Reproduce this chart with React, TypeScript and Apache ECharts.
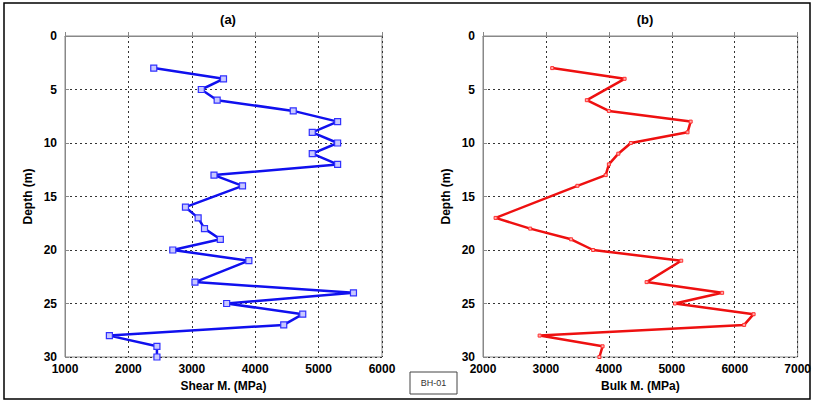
import React, { useEffect, useRef } from "react";
import * as echarts from "echarts";

const shearDepths = [3, 4, 5, 6, 7, 8, 9, 10, 11, 12, 13, 14, 16, 17, 18, 19, 20, 21, 23, 24, 25, 26, 27, 28, 29, 30];
const shearValues = [2400, 3500, 3150, 3400, 4600, 5300, 4900, 5300, 4900, 5300, 3350, 3800, 2900, 3100, 3200, 3450, 2700, 3900, 3050, 5550, 3550, 4750, 4450, 1700, 2450, 2450];

const bulkDepths = [3, 4, 6, 7, 8, 9, 10, 11, 12, 13, 14, 17, 18, 19, 20, 21, 23, 24, 25, 26, 27, 28, 29, 30];
const bulkValues = [3100, 4250, 3650, 4000, 5300, 5250, 4350, 4150, 4000, 3950, 3500, 2200, 2750, 3400, 3750, 5150, 4600, 5800, 5050, 6300, 6150, 2900, 3900, 3850];

const panelTitles = ["(a)", "(b)"];
const xNames = ["Shear M. (MPa)", "Bulk M. (MPa)"];
const yName = "Depth (m)";
const legendText = "BH-01";

const FONT = "Liberation Sans, Arial, sans-serif";

export default function App() {
  const ref = useRef<HTMLDivElement>(null);
  useEffect(() => {
    if (!ref.current) return;
    const chart = echarts.init(ref.current, null, { renderer: "svg" });
    const grids = [
      { left: 65, top: 36, width: 317, height: 321 },
      { left: 483, top: 36, width: 315, height: 321 },
    ];
    const xRanges = [
      [1000, 6000],
      [2000, 7000],
    ];
    const axisLabelStyle = { color: "#000", fontSize: 12, fontWeight: "bold" as const, fontFamily: FONT };
    const xAxes = [0, 1].map((i) => ({
      type: "value",
      gridIndex: i,
      min: xRanges[i][0],
      max: xRanges[i][1],
      interval: 1000,
      position: "bottom",
      name: xNames[i],
      nameLocation: "middle",
      nameGap: 22,
      nameTextStyle: { color: "#000", fontSize: 12, fontWeight: "bold", fontFamily: FONT },
      axisLine: { show: true, lineStyle: { color: "#888", width: 1 } },
      axisTick: { show: true, inside: true, length: 4, lineStyle: { color: "#888" } },
      axisLabel: { ...axisLabelStyle, margin: 6, formatter: (v: number) => String(v) },
      splitLine: { show: true, lineStyle: { color: "#333", type: [2, 3], width: 1 } },
    }));
    const yAxes = [0, 1].map((i) => ({
      type: "value",
      gridIndex: i,
      min: 0,
      max: 30,
      interval: 5,
      inverse: true,
      name: yName,
      nameLocation: "middle",
      nameGap: 31,
      nameTextStyle: { color: "#000", fontSize: 12, fontWeight: "bold", fontFamily: FONT },
      axisLine: { show: true, lineStyle: { color: "#888", width: 1 } },
      axisTick: { show: true, inside: true, length: 4, lineStyle: { color: "#888" } },
      axisLabel: { ...axisLabelStyle, margin: 8 },
      splitLine: { show: true, lineStyle: { color: "#333", type: [2, 3], width: 1 } },
    }));
    const shearData = shearDepths.map((d, k) => [shearValues[k], d]);
    const bulkData = bulkDepths.map((d, k) => [bulkValues[k], d]);
    chart.setOption({
      animation: false,
      backgroundColor: "#fff",
      grid: grids.map((g) => ({ ...g, show: true, borderColor: "#888", borderWidth: 1, backgroundColor: "#fff" })),
      xAxis: xAxes,
      yAxis: yAxes,
      title: [
        { text: panelTitles[0], left: 223, top: 8, textAlign: "center", textStyle: { fontSize: 13, fontWeight: "bold", color: "#000", fontFamily: FONT } },
        { text: panelTitles[1], left: 640, top: 8, textAlign: "center", textStyle: { fontSize: 13, fontWeight: "bold", color: "#000", fontFamily: FONT } },
      ],
      series: [
        {
          type: "line",
          xAxisIndex: 0,
          yAxisIndex: 0,
          data: shearData,
          symbol: "rect",
          symbolSize: 6,
          showAllSymbol: true,
          lineStyle: { color: "#1010ee", width: 2.5 },
          itemStyle: { color: "#c8c8ff", borderColor: "#3030ff", borderWidth: 1.2 },
        },
        {
          type: "line",
          xAxisIndex: 1,
          yAxisIndex: 1,
          data: bulkData,
          symbol: "rect",
          symbolSize: 3,
          showAllSymbol: true,
          lineStyle: { color: "#ee1010", width: 2.5 },
          itemStyle: { color: "#ffb0b0", borderColor: "#ff3030", borderWidth: 1 },
        },
      ],
      graphic: [
        { type: "rect", shape: { x: 4, y: 3, width: 806, height: 396 }, style: { fill: "none", stroke: "#000", lineWidth: 1.5 }, silent: true },
        { type: "rect", shape: { x: 410, y: 372, width: 47, height: 22 }, style: { fill: "#fff", stroke: "#444", lineWidth: 1 } },
        { type: "text", x: 433.5, y: 383, style: { text: legendText, fill: "#333", fontSize: 9, fontFamily: FONT, align: "center", verticalAlign: "middle" } },
      ],
    });
    return () => chart.dispose();
  }, []);
  return <div ref={ref} style={{ position: "fixed", left: 0, top: 0, width: 814, height: 404 }} />;
}
